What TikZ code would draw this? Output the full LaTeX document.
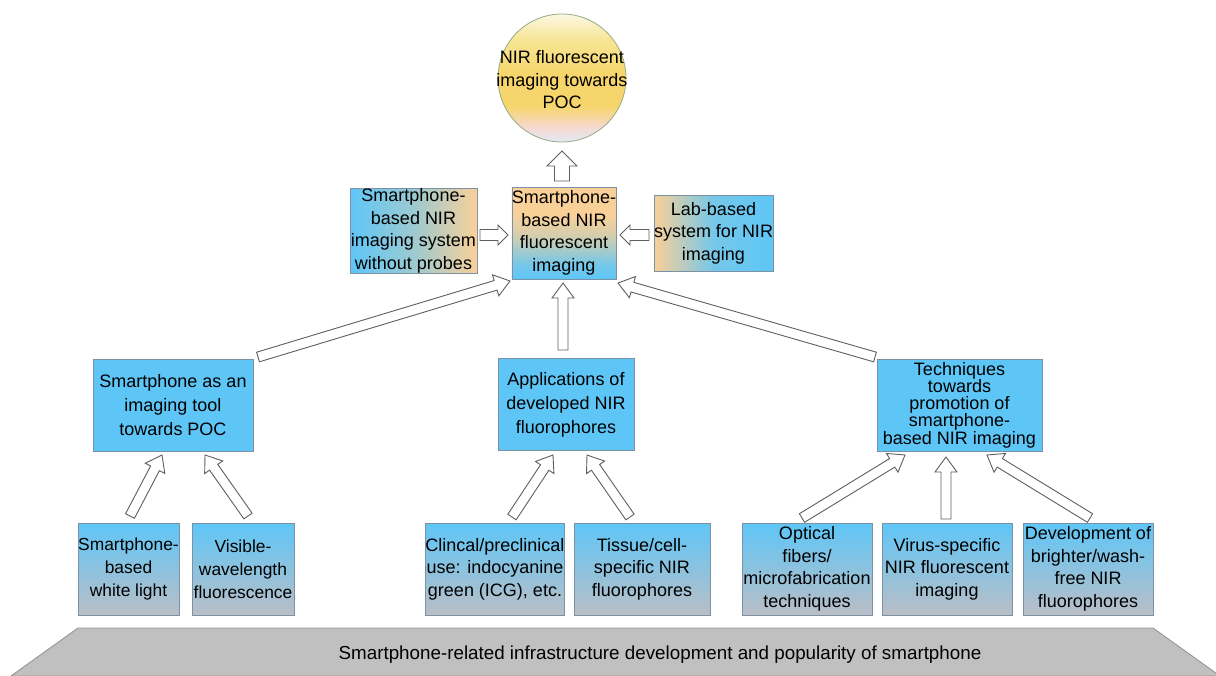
\documentclass[tikz,border=0pt]{standalone}
\usepackage{fontspec}
\setmainfont{Liberation Sans}
\usetikzlibrary{calc}
\definecolor{blueF}{RGB}{94,198,247}
\definecolor{greyF}{RGB}{186,190,198}
\definecolor{peach}{RGB}{249,208,152}
\definecolor{boxD}{RGB}{125,145,165}
\definecolor{baseF}{RGB}{192,192,192}
\definecolor{baseD}{RGB}{150,150,150}
\definecolor{arrD}{RGB}{95,95,95}
\definecolor{ballA}{RGB}{225,234,248}
\definecolor{ballB}{RGB}{246,216,205}
\definecolor{ballC}{RGB}{246,214,108}
\definecolor{ballD}{RGB}{248,230,150}
\definecolor{ballE}{RGB}{251,247,225}
\definecolor{ballR}{RGB}{150,170,130}
\pgfdeclareverticalshading{ballshade}{100bp}{color(0bp)=(ballA); color(25bp)=(ballA); color(31bp)=(ballB); color(39bp)=(ballC); color(52bp)=(ballC); color(65bp)=(ballD); color(75bp)=(ballE); color(100bp)=(ballE)}
\pgfdeclareverticalshading{centralshade}{100bp}{color(0bp)=(blueF); color(25bp)=(blueF); color(33bp)=(blueF!85!peach); color(48bp)=(peach!75!blueF); color(60bp)=(peach); color(100bp)=(peach)}
\newcommand\hollowarrow[5]{%
  \path ($(#2)!#5!(#1)$) coordinate (hb);
  \draw[arrowstyle] ($(#1)!#3!90:(#2)$) -- ($(hb)!#3!-90:(#1)$) -- ($(hb)!#4!-90:(#1)$) -- (#2)
    -- ($(hb)!#4!90:(#1)$) -- ($(hb)!#3!90:(#1)$) -- ($(#1)!#3!-90:(#2)$) -- cycle;}
\tikzset{
  arrowstyle/.style={draw=arrD, fill=white, line width=0.9pt, line join=miter},
  txt/.style={font=\fontsize{18}{22.5}\selectfont, align=center, inner sep=0pt},
  box/.style={txt, draw=boxD, line width=0.8pt, minimum height=92pt},
  midbox/.style={box, fill=blueF},
  lowbox/.style={box, top color=blueF, bottom color=greyF},
}
\begin{document}
\begin{tikzpicture}[x=1pt,y=-1pt]
\useasboundingbox (0,0) rectangle (1216,675);
% base
\filldraw[fill=baseF, draw=baseD, line width=0.9pt] (78,628) -- (1153,628) -- (1220,676) -- (11,676) -- cycle;
\node[txt, font=\fontsize{18.8}{20}\selectfont] (base) at (660,655) {Smartphone-related infrastructure development and popularity of smartphone};
% top ball
\node[circle, draw=ballR, line width=0.8pt, shading=ballshade, minimum size=128pt, inner sep=0pt] (ball) at (562,78) {};
\node[txt] (balltxt) at (562,80) {NIR fluorescent\\imaging towards\\POC};
% upper row
\node[box, minimum width=104pt, shading=centralshade] (central) at (564,233) {Smartphone-\\based NIR\\fluorescent\\imaging};
\node[box, minimum width=127pt, minimum height=80pt, left color=blueF, right color=peach, middle color=blueF!60!peach] (noprobe) at (413.5,231) {Smartphone-\\based NIR\\imaging system\\without probes};
\node[box, minimum width=119pt, minimum height=76pt, left color=peach, right color=blueF, middle color=blueF!85!peach] (lab) at (713.5,233) {Lab-based\\system for NIR\\imaging};
% middle row
\node[midbox, minimum width=160pt, font=\fontsize{18}{24}\selectfont] (mid1) at (173,405) {Smartphone as an\\imaging tool\\towards POC};
\node[midbox, minimum width=136pt, font=\fontsize{18}{24}\selectfont] (mid2) at (566,404.5) {Applications of\\developed NIR\\fluorophores};
\node[midbox, minimum width=165pt, font=\fontsize{18}{17.2}\selectfont] (mid3) at (959.5,405) {Techniques\\towards\\promotion of\\smartphone-\\based NIR imaging};
% bottom row
\node[lowbox, minimum width=101pt, font=\fontsize{17.4}{23}\selectfont] (b1) at (128.5,569) {Smartphone-\\based\\white light};
\node[lowbox, minimum width=102pt, font=\fontsize{17.4}{23}\selectfont] (b2) at (243,569) {Visible-\\wavelength\\fluorescence};
\node[lowbox, minimum width=136pt] (b3) at (495,569) {Clincal/preclinical\\use: indocyanine\\green (ICG), etc.};
\node[lowbox, minimum width=136pt] (b4) at (642,569) {Tissue/cell-\\specific NIR\\fluorophores};
\node[lowbox, minimum width=130pt] (b5) at (807,569) {Optical\\fibers/\\microfabrication\\techniques};
\node[lowbox, minimum width=130pt] (b6) at (947,569) {Virus-specific\\NIR fluorescent\\imaging};
\node[lowbox, minimum width=130pt] (b7) at (1088,569) {Development of\\brighter/wash-\\free NIR\\fluorophores};
% arrow end points
\coordinate (cT) at (562,181); \coordinate (bB) at (562,151);
\coordinate (npR) at (480,235); \coordinate (cL) at (508,235);
\coordinate (labL) at (649,235); \coordinate (cR) at (620,235);
\coordinate (m1T) at (258,357); \coordinate (cBL) at (510,281);
\coordinate (m2T) at (563,350); \coordinate (cB) at (563,283);
\coordinate (m3T) at (875,357); \coordinate (cBR) at (618,283);
\coordinate (b1T) at (130,516); \coordinate (m1BL) at (162,455);
\coordinate (b2T) at (248,516); \coordinate (m1BR) at (205,455);
\coordinate (b3T) at (512,517); \coordinate (m2BL) at (553,455);
\coordinate (b4T) at (630,517); \coordinate (m2BR) at (587,455);
\coordinate (b5T) at (802,518); \coordinate (m3BL) at (905,455);
\coordinate (b6T) at (946,519); \coordinate (m3B) at (946,457);
\coordinate (b7T) at (1090,518); \coordinate (m3BR) at (987,455);
% arrows
\hollowarrow{cT}{bB}{7.5pt}{15pt}{15pt}
\hollowarrow{npR}{cL}{5.5pt}{10pt}{10pt}
\hollowarrow{labL}{cR}{5.5pt}{10pt}{10pt}
\hollowarrow{m1T}{cBL}{5pt}{11pt}{15pt}
\hollowarrow{m2T}{cB}{5pt}{11pt}{15pt}
\hollowarrow{m3T}{cBR}{5pt}{11pt}{15pt}
\hollowarrow{b1T}{m1BL}{5pt}{11pt}{15pt}
\hollowarrow{b2T}{m1BR}{5pt}{11pt}{15pt}
\hollowarrow{b3T}{m2BL}{5pt}{11pt}{15pt}
\hollowarrow{b4T}{m2BR}{5pt}{11pt}{15pt}
\hollowarrow{b5T}{m3BL}{5pt}{11pt}{15pt}
\hollowarrow{b6T}{m3B}{5pt}{11pt}{15pt}
\hollowarrow{b7T}{m3BR}{5pt}{11pt}{15pt}
\end{tikzpicture}
\end{document}
